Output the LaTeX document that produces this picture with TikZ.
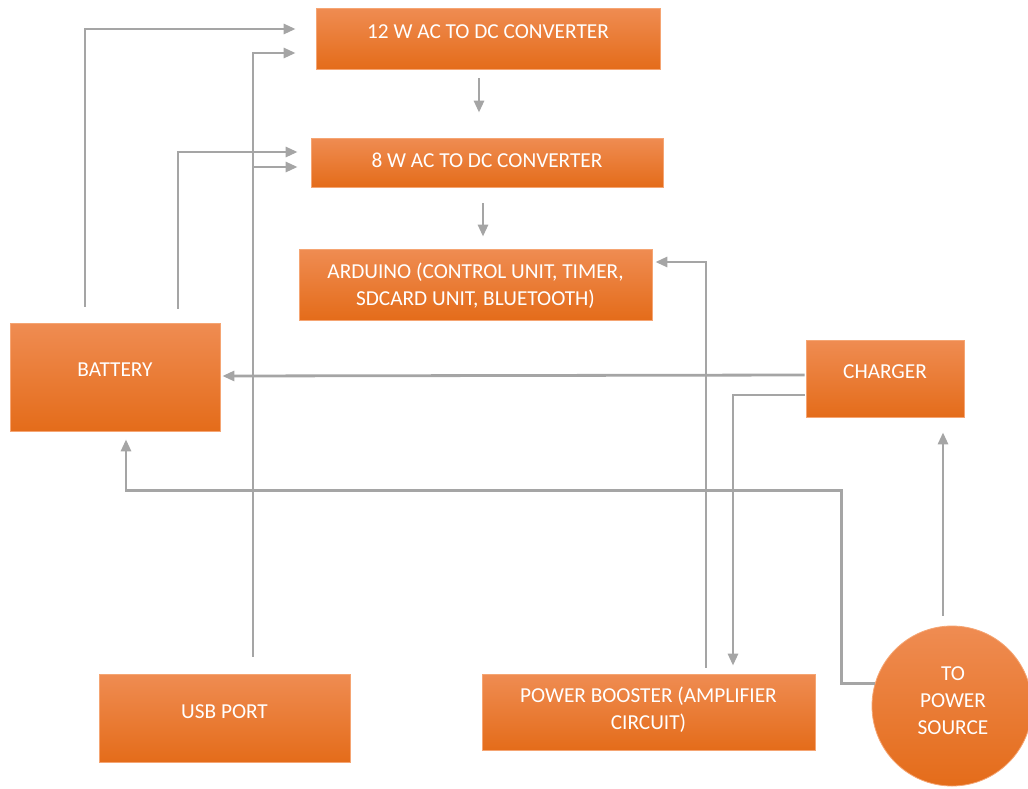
\documentclass[tikz,border=0pt]{standalone}
\usepackage{fontspec}
\setmainfont{Carlito}
\usetikzlibrary{arrows.meta,calc}
\definecolor{otop}{RGB}{239,140,82}
\definecolor{omid}{RGB}{241,126,42}
\definecolor{obot}{RGB}{228,108,26}
\definecolor{oedge}{RGB}{245,165,115}
\definecolor{gline}{RGB}{165,165,165}
\begin{document}
\begin{tikzpicture}[x=1pt,y=-1pt,
  box/.style={draw=oedge,line width=0.8pt,top color=otop,middle color=omid,bottom color=obot,rectangle,inner sep=0pt},
  roundbox/.style={box,circle,minimum size=160pt},
  lbl/.style={text=white,font=\fontsize{21.3}{27}\selectfont,align=center,anchor=base,inner sep=0pt},
  conn/.style={draw=gline,line width=2.8pt,-{Triangle[length=12pt,width=10pt]}}]
\useasboundingbox (0,0) rectangle (1028,788);
% boxes
\node[box,minimum width=344pt,minimum height=61pt] (b12) at (488,38.5) {};
\node[box,minimum width=352pt,minimum height=49pt] (b8) at (487,162.5) {};
\node[box,minimum width=353pt,minimum height=71pt] (ard) at (475.5,284.5) {};
\node[box,minimum width=210pt,minimum height=108pt] (bat) at (115,377) {};
\node[box,minimum width=158pt,minimum height=77pt] (ch) at (885,378.5) {};
\node[box,minimum width=251pt,minimum height=88pt] (usb) at (224.5,718) {};
\node[box,minimum width=333pt,minimum height=76pt] (pb) at (648.5,712) {};
\node[roundbox] (ps) at (952,706) {};
% labels (anchor=base is the baseline of the last line)
\node[lbl] (t12) at (488,38) {12 W AC TO DC CONVERTER};
\node[lbl] (t8) at (487,167) {8 W AC TO DC CONVERTER};
\node[lbl] (tard) at (475.5,305) {ARDUINO (CONTROL UNIT, TIMER,\\SDCARD UNIT, BLUETOOTH)};
\node[lbl] (tbat) at (115,376) {BATTERY};
\node[lbl] (tch) at (885,378) {CHARGER};
\node[lbl] (tusb) at (224.5,718) {USB PORT};
\node[lbl] (tpb) at (648.5,729) {POWER BOOSTER (AMPLIFIER\\CIRCUIT)};
\node[lbl] (tps) at (953,734) {TO\\POWER\\SOURCE};
% helper coordinates
\coordinate (u1) at ($(usb.north)+(28.5,-17)$);
\coordinate (u8) at ($(b8.west)+(-13,4.5)$);
% connectors
\draw[conn] ($(bat.north)+(-30,-16)$) |- ($(b12.west)+(-20,-9.5)$);
\draw[conn] ($(bat.north)+(63,-14)$) |- ($(b8.west)+(-13,-10.5)$);
\draw[conn] (u1) |- ($(b12.west)+(-20,14.5)$);
\draw[conn] (u8 -| u1) -- (u8);
\draw[conn] ($(b12.south)+(-9,9)$) -- ($(b8.north)+(-8,-25)$);
\draw[conn] ($(b8.south)+(-4,16)$) -- ($(ard.north)+(7.5,-12)$);
\draw[conn] ($(pb.north)+(57.5,-6)$) |- ($(ard.east)+(3,-22.5)$);
\draw[conn] ($(ch.west)+(-1,-3.5)$) -- ($(bat.east)+(2,-1)$);
\draw[conn] ($(ch.west)+(-1,16.5)$) -| ($(pb.north)+(84.5,-8)$);
\draw[conn] (ps.164) -- ++(-33,0) |- ($(bat.south)+(11,59)$) -- ($(bat.south)+(11,8)$);
\draw[conn] ($(ps.north)+(-9,-10)$) -- ($(ch.south)+(58,15)$);
\end{tikzpicture}
\end{document}
